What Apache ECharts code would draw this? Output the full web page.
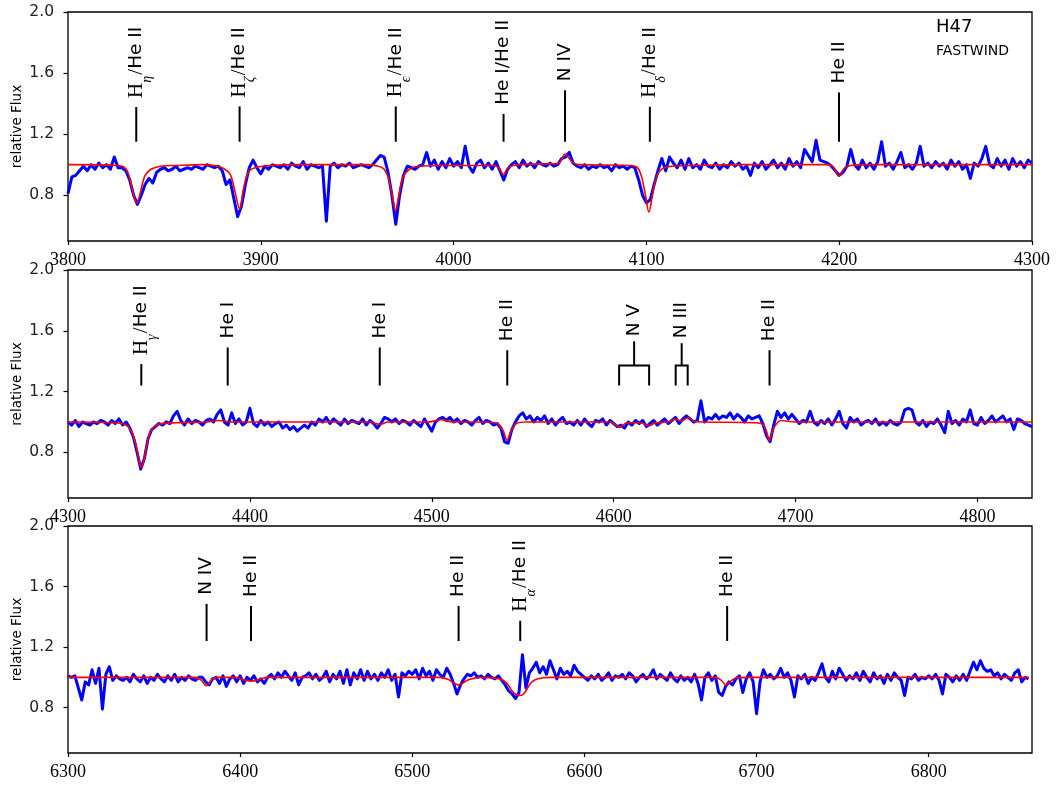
<!DOCTYPE html>
<html><head><meta charset="utf-8">
<script src="https://cdn.jsdelivr.net/npm/echarts@6/dist/echarts.min.js"></script>
<style>html,body{margin:0;padding:0;background:#fff}#c{width:1056px;height:787px}</style>
</head><body><div id="c"></div>
<script>
// ---------------- data ----------------
const p1Start = 3800, p1Step = 2;
const p1Flux = [
0.81,0.92,0.93,0.96,0.99,0.96,1.00,0.97,1.01,0.98,
1.00,0.97,1.05,0.98,0.98,0.96,0.90,0.80,0.74,0.80,
0.87,0.91,0.88,0.95,0.97,0.98,0.96,0.97,0.99,0.96,
0.97,0.98,0.97,0.99,0.98,0.97,1.00,0.99,0.98,0.99,
0.96,0.87,0.90,0.78,0.66,0.73,0.87,0.98,1.03,0.98,
0.94,0.99,0.97,1.00,0.99,0.98,1.00,0.97,1.01,0.99,
0.98,1.02,0.97,1.00,0.99,0.98,0.99,0.63,0.99,1.01,
0.98,1.00,0.99,1.01,0.98,0.99,1.00,0.99,0.98,1.00,
1.03,1.06,1.05,0.95,0.80,0.61,0.80,0.93,0.99,0.98,
0.97,0.99,1.00,1.08,0.99,1.03,0.97,1.02,0.98,1.04,
0.99,1.02,0.98,1.12,0.99,0.95,1.01,1.03,0.98,1.01,
0.97,1.02,0.96,0.90,0.97,1.00,1.02,0.98,1.03,0.99,
1.01,0.98,1.02,1.00,0.99,1.01,0.99,1.00,1.04,1.05,
1.08,1.01,0.99,0.98,1.00,0.97,0.99,0.98,1.00,0.98,
0.99,0.96,1.00,0.98,0.99,0.97,0.99,0.98,0.90,0.80,
0.75,0.77,0.87,0.96,1.04,0.96,1.05,1.01,0.98,1.03,
0.97,1.04,0.98,1.00,0.97,1.03,0.99,0.98,1.01,0.97,
1.00,0.98,1.02,0.99,1.01,0.97,0.99,0.93,1.01,0.98,
1.02,0.97,1.00,1.03,0.98,1.01,0.97,1.04,0.99,1.02,
0.98,1.10,1.06,1.02,1.16,1.03,1.02,1.01,0.99,0.96,
0.93,0.95,0.99,1.10,1.00,0.97,1.03,0.98,1.01,0.97,
1.02,1.15,0.99,1.01,0.97,1.02,1.08,0.98,1.00,0.97,
1.01,1.12,0.99,1.01,0.98,1.02,0.99,1.01,0.97,1.03,
0.99,1.02,0.97,1.00,0.91,1.01,0.99,1.04,1.12,1.00,
0.98,1.04,0.99,1.03,0.97,1.04,0.99,1.02,0.98,1.03,
1.01];
const p1Model = [[3800,1.0],[3826,0.995],[3829,0.985],[3831,0.95],[3833,0.86],[3834.5,0.78],[3835.6,0.75],[3837,0.79],[3838.5,0.87],[3840,0.93],[3843,0.97],[3848,0.99],[3856,0.995],[3870,1.0],
[3876,0.995],[3880,0.98],[3884,0.94],[3886.5,0.83],[3889,0.71],[3891,0.84],[3893.5,0.95],[3897,0.98],[3905,0.995],[3920,1.0],
[3955,1.0],[3961,0.99],[3964,0.97],[3966.5,0.90],[3968.3,0.79],[3969.8,0.70],[3971.5,0.79],[3973.5,0.91],[3977,0.97],[3982,0.99],[3995,0.995],
[4020,0.995],[4023.5,0.98],[4025.8,0.935],[4028,0.975],[4031,0.995],
[4045,1.005],[4052,1.005],[4055,1.015],[4057.8,1.07],[4060,1.04],[4062,1.01],[4066,1.0],
[4090,0.995],[4095,0.985],[4097.5,0.92],[4099.5,0.80],[4101.3,0.69],[4103,0.79],[4105,0.91],[4108,0.97],[4113,0.99],[4125,0.995],[4150,1.0],
[4193,1.0],[4197,0.985],[4199.8,0.925],[4202.5,0.975],[4206,0.995],[4215,1.0],[4300,1.0]];

const p2Start = 4300, p2Step = 2;
const p2Flux = [
1.00,0.98,1.01,0.97,1.00,0.99,0.98,1.00,0.99,1.01,
1.00,0.98,1.01,0.99,1.02,0.98,1.00,0.96,0.90,0.80,
0.69,0.76,0.89,0.95,0.97,0.99,0.98,1.00,0.99,1.04,
1.07,1.01,0.98,1.02,0.99,1.01,1.00,0.98,1.01,1.02,
1.00,1.05,1.08,1.00,0.98,1.06,0.99,1.02,0.98,1.00,
1.09,0.99,0.97,1.01,0.98,1.00,0.97,0.99,1.00,0.96,
0.98,0.95,0.97,0.94,0.96,0.98,0.96,1.00,0.98,1.02,
1.00,1.03,0.99,1.02,1.00,0.98,1.02,0.99,1.01,1.00,
0.99,1.02,0.98,1.01,0.99,0.96,0.99,1.03,1.02,1.00,
1.02,0.99,1.01,1.00,0.98,1.01,0.99,0.97,1.02,0.98,
0.94,1.00,1.02,1.03,1.01,1.03,1.00,1.02,0.99,1.01,
1.00,0.98,1.01,1.03,0.99,1.01,1.00,0.98,0.99,0.96,
0.87,0.86,0.95,1.00,1.04,1.06,1.02,1.04,1.00,1.03,
1.01,1.04,0.99,1.02,0.98,1.01,1.03,0.99,1.00,0.98,
1.01,0.98,1.02,0.99,0.97,1.01,1.00,1.02,0.98,1.01,
0.99,0.97,0.98,0.96,1.00,0.98,1.01,0.99,1.01,0.97,
0.99,1.01,0.98,1.00,1.02,0.99,1.01,1.03,0.99,1.02,
1.04,1.02,1.00,1.01,1.14,1.00,1.03,1.02,1.05,1.02,
1.04,1.03,1.06,1.02,1.05,1.03,1.00,1.04,1.02,1.03,
1.04,0.99,0.91,0.87,0.98,1.07,1.03,1.06,1.02,1.05,
1.02,0.99,1.01,1.00,1.07,1.00,0.98,1.01,0.99,1.02,
0.98,1.02,1.07,0.99,0.96,1.03,1.00,1.02,0.98,1.00,
1.01,0.99,1.02,0.98,1.00,0.98,1.01,0.99,0.98,1.00,
1.08,1.09,1.08,1.00,0.98,1.01,0.97,1.00,0.99,1.02,
0.98,0.93,1.07,0.99,1.01,0.98,1.02,1.00,1.08,0.99,
0.98,1.03,0.99,1.01,1.04,1.00,1.02,1.04,1.00,1.02,
0.95,1.02,1.01,0.99,0.98,0.97];
const p2Model = [[4300,1.0],[4325,0.995],[4331,0.985],[4334.5,0.95],[4337.3,0.85],[4339.2,0.74],[4340.4,0.70],[4341.8,0.75],[4343.5,0.86],[4346,0.95],[4350,0.985],[4360,0.995],
[4376,1.0],[4383,1.01],[4390,1.0],[4466,1.0],[4471.5,0.985],[4476,1.0],[4498,1.0],[4505,1.015],[4512,1.0],
[4530,1.0],[4536,0.99],[4539,0.95],[4541.4,0.88],[4543.5,0.94],[4546.5,0.99],[4552,1.0],
[4598,1.0],[4603.7,0.965],[4607,0.995],[4615,0.995],[4619.5,0.975],[4623,0.995],
[4630,1.0],[4634.5,1.02],[4637,1.005],[4641,1.03],[4644,1.005],[4650,1.0],
[4678,0.995],[4682,0.985],[4684,0.94],[4685.5,0.88],[4687,0.93],[4689,0.98],[4692,1.01],[4700,1.0],[4830,1.0]];

const p3Start = 6300, p3Step = 2;
const p3Flux = [
1.01,1.00,1.01,0.93,0.85,0.97,0.95,1.05,0.96,1.06,
0.79,1.02,1.07,0.98,1.01,0.99,0.98,1.00,0.97,1.02,
0.99,0.97,1.01,0.96,1.00,0.98,1.02,0.99,0.97,1.01,
0.98,1.02,0.97,1.00,0.98,1.01,0.99,0.98,1.00,1.00,
0.97,0.95,0.99,1.00,0.96,1.01,0.94,0.99,1.01,0.97,
1.01,0.96,1.00,0.98,1.01,0.97,0.99,0.96,1.00,1.02,
0.99,1.03,1.00,1.04,1.01,0.98,1.03,0.95,1.00,1.01,
1.03,0.99,1.02,0.98,1.00,1.04,0.97,1.02,0.99,1.04,
0.96,1.05,0.95,1.03,0.99,1.05,0.98,1.04,0.99,1.02,
0.98,1.03,1.00,1.05,0.98,1.02,0.87,1.03,1.01,1.04,
1.02,1.05,0.99,1.06,1.01,1.04,0.98,1.05,1.02,1.00,
1.06,1.02,0.96,0.89,0.95,0.99,1.02,1.01,1.03,1.00,
1.01,0.99,1.02,1.00,0.99,1.01,0.98,0.95,0.91,0.89,
0.86,0.90,1.15,0.93,1.03,1.06,1.10,1.03,1.07,1.02,
1.11,1.05,0.99,1.06,1.02,1.04,1.01,1.08,1.04,1.02,
1.00,0.98,1.01,0.99,1.02,0.98,1.00,1.03,0.98,1.01,
1.00,1.02,0.99,1.03,1.01,0.97,1.00,1.02,0.99,1.01,
1.05,0.99,1.02,1.00,0.98,1.03,0.99,0.97,1.01,0.98,
1.00,0.97,1.02,0.96,0.85,1.00,1.03,0.98,1.01,0.90,
0.88,0.94,0.97,0.95,0.99,1.01,0.90,0.99,1.03,0.97,
0.76,0.97,1.05,1.00,1.02,0.99,1.01,1.06,1.00,1.03,
0.98,0.87,1.01,0.99,1.02,0.96,1.00,0.98,1.03,1.09,
1.00,0.97,1.04,0.99,1.06,1.02,0.98,1.01,0.99,1.03,
0.98,1.04,1.00,0.97,1.03,0.99,1.01,0.96,1.02,0.98,
1.03,1.00,0.98,0.88,1.00,0.99,1.02,0.98,1.00,0.99,
1.01,0.99,1.02,0.98,0.89,1.02,1.00,0.97,1.01,0.98,
1.02,0.98,1.04,1.10,1.05,1.11,1.06,1.04,1.05,1.01,
1.03,0.99,1.02,1.00,0.98,1.03,1.05,0.97,1.00,0.99];
const p3Model = [[6300,1.0],[6374,1.0],[6377,0.985],[6380.5,0.945],[6383.5,0.985],[6387,1.0],
[6397,1.0],[6402,0.985],[6406.5,0.975],[6411,0.985],[6416,1.0],
[6516,1.0],[6521,0.985],[6524.5,0.96],[6526.8,0.95],[6529,0.96],[6533,0.985],[6540,1.0],
[6548,0.995],[6552,0.985],[6555,0.96],[6558,0.91],[6560.5,0.885],[6562.8,0.88],[6565,0.895],[6567,0.93],[6569.5,0.97],[6573,0.99],[6580,1.0],
[6676,1.0],[6679.5,0.98],[6682.2,0.95],[6685,0.975],[6688,0.995],[6695,1.0],[6858,1.0]];

// line identifications: [wavelength, label] or [low, high, label] for a bracket
const p1Lines = [[3835.4,'H_η/He II'],[3889.0,'H_ζ/He II'],[3970.0,'H_ϵ/He II'],[4025.9,'He I/He II'],[4057.8,'N IV'],[4101.8,'H_δ/He II'],[4199.9,'He II']];
const p2Lines = [[4340.3,'H_γ/He II'],[4387.8,'He I'],[4471.4,'He I'],[4541.5,'He II'],[4603.0,4619.5,'N V'],[4634.1,4640.7,'N III'],[4685.7,'He II']];
const p3Lines = [[6380.5,'N IV'],[6406.3,'He II'],[6526.9,'He II'],[6562.7,'H_α/He II'],[6682.9,'He II']];

const p1Ticks = [3800,3900,4000,4100,4200,4300];
const p2Ticks = [4300,4400,4500,4600,4700,4800];
const p3Ticks = [6300,6400,6500,6600,6700,6800];
const yTicks = [0.8,1.2,1.6,2.0];
const ranges = [[3800,4300],[4300,4830],[6300,6860]];

// ---------------- chart ----------------
const chart = echarts.init(document.getElementById('c'), null, {renderer:'canvas'});
const toXY = (start, step, arr) => arr.map((f,i)=>[start + i*step, f]);

const RICH = {
  r:{fontFamily:'Liberation Serif',fontSize:21,lineHeight:36,fill:'#000',color:'#000'},
  s:{fontFamily:'Liberation Serif',fontStyle:'italic',fontSize:14,lineHeight:36,verticalAlign:'bottom',fill:'#000',color:'#000'},
  sp:{fontFamily:'Liberation Serif',fontSize:5,lineHeight:36,fill:'#000',color:'#000'},
  t:{fontFamily:'DejaVu Sans',fontSize:18.5,lineHeight:36,fill:'#000',color:'#000'}
};
function richText(lbl){
  if (lbl.startsWith('H_')) {
    const g = lbl.charAt(2); const rest = lbl.slice(4);
    return '{r|H}{s|' + g + '}{sp| }{r|/}{t|' + rest + '}';
  }
  return '{t|' + lbl + '}';
}
function textLen(str){
  try {
    const t = new echarts.graphic.Text({style:{text:str, rich:RICH}});
    return t.getBoundingRect().width;
  } catch(e){ return str.length*9; }
}
const TEXT_CENTER = 1.67;
function annoSeries(gi, list, baseVal){
  return {
    type:'custom', xAxisIndex:gi, yAxisIndex:gi, silent:true, clip:false, z:5,
    data: list.map((a,i)=> a.length===3 ? [a[0],a[1],i] : [a[0],a[0],i]),
    renderItem:(params, api)=>{
      const i = api.value(2); const a = list[i];
      const x1 = api.value(0), x2 = api.value(1);
      const lbl = a[a.length-1];
      const xm = (x1+x2)/2;
      const c = api.coord([xm, TEXT_CENTER]);
      const str = richText(lbl);
      const w = textLen(str);
      const bottom = api.coord([xm, baseVal])[1];
      const lineStyle = {stroke:'#000', lineWidth:2};
      const children = [{
        type:'text', x:c[0], y:c[1], rotation:Math.PI/2,
        style:{text:str, rich:RICH, align:'center', verticalAlign:'middle', fill:'#000'}
      }];
      if (a.length===3) {
        const gap = 5;
        const top = c[1] + w/2 + gap;
        const xl = api.coord([x1, baseVal])[0], xr = api.coord([x2, baseVal])[0];
        const bar = bottom - 20;
        children.push({type:'polyline', shape:{points:[[xl,bottom],[xl,bar],[xr,bar],[xr,bottom]]}, style:Object.assign({fill:null},lineStyle)});
        children.push({type:'line', shape:{x1:c[0],y1:bar,x2:c[0],y2:top}, style:lineStyle});
      } else {
        const top = c[1] + w/2 + 9;
        children.push({type:'line', shape:{x1:c[0],y1:bottom,x2:c[0],y2:top}, style:lineStyle});
      }
      return {type:'group', children};
    }
  };
}

const grids = [
  {left:68, right:24, top:12, height:229},
  {left:68, right:24, top:270, height:228},
  {left:68, right:24, top:526, height:227}
].map(g=>Object.assign(g,{show:true, containLabel:false, outerBoundsMode:'none', borderColor:'#000', borderWidth:1.3, backgroundColor:'transparent'}));

const xTickSets = [p1Ticks, p2Ticks, p3Ticks];
const xAxes = ranges.map((r,i)=>({
  type:'value', gridIndex:i, min:r[0], max:r[1],
  axisLine:{show:false}, splitLine:{show:false},
  axisTick:{show:true, length:4, customValues:xTickSets[i], lineStyle:{color:'#000', width:1.2}},
  axisLabel:{customValues:xTickSets[i], margin:10, color:'#000', fontFamily:'Liberation Serif', fontSize:18, formatter:v=>String(v)}
}));
const yAxes = [0,1,2].map(i=>({
  type:'value', gridIndex:i, min:0.5, max:2.0,
  name:'relative Flux', nameLocation:'middle', nameRotate:90, nameGap:44, nameMoveOverlap:false,
  nameTextStyle:{fontFamily:'DejaVu Sans', fontSize:13.5, color:'#000'},
  axisLine:{show:false}, splitLine:{show:false},
  axisTick:{show:true, length:4.5, customValues:yTicks, lineStyle:{color:'#000', width:1.2}},
  axisLabel:{customValues:yTicks, margin:14, color:'#222', fontFamily:'DejaVu Sans', fontSize:15.5, formatter:v=>v.toFixed(1)}
}));

const obs = [toXY(p1Start,p1Step,p1Flux), toXY(p2Start,p2Step,p2Flux), toXY(p3Start,p3Step,p3Flux)];
const mod = [p1Model, p2Model, p3Model];
const series = [];
for (let i=0;i<3;i++){
  series.push({type:'line', xAxisIndex:i, yAxisIndex:i, data:obs[i], showSymbol:false, symbol:'none',
    lineStyle:{color:'#0000ff', width:3, join:'round'}, z:2, silent:true});
  series.push({type:'line', xAxisIndex:i, yAxisIndex:i, data:mod[i], showSymbol:false, symbol:'none', smooth:0.35,
    lineStyle:{color:'#ff0000', width:1.6}, z:3, silent:true});
}
series.push(annoSeries(0, p1Lines, 1.15));
series.push(annoSeries(1, p2Lines, 1.24));
series.push(annoSeries(2, p3Lines, 1.24));

chart.setOption({
  animation:false,
  backgroundColor:'#fff',
  grid:grids, xAxis:xAxes, yAxis:yAxes, series,
  graphic:[
    {type:'text', left:936, top:18, style:{text:'H47', fontFamily:'DejaVu Sans', fontSize:18, fill:'#000'}},
    {type:'text', left:936, top:44, style:{text:'FASTWIND', fontFamily:'DejaVu Sans', fontSize:14, fill:'#000'}}
  ]
});
</script></body></html>
